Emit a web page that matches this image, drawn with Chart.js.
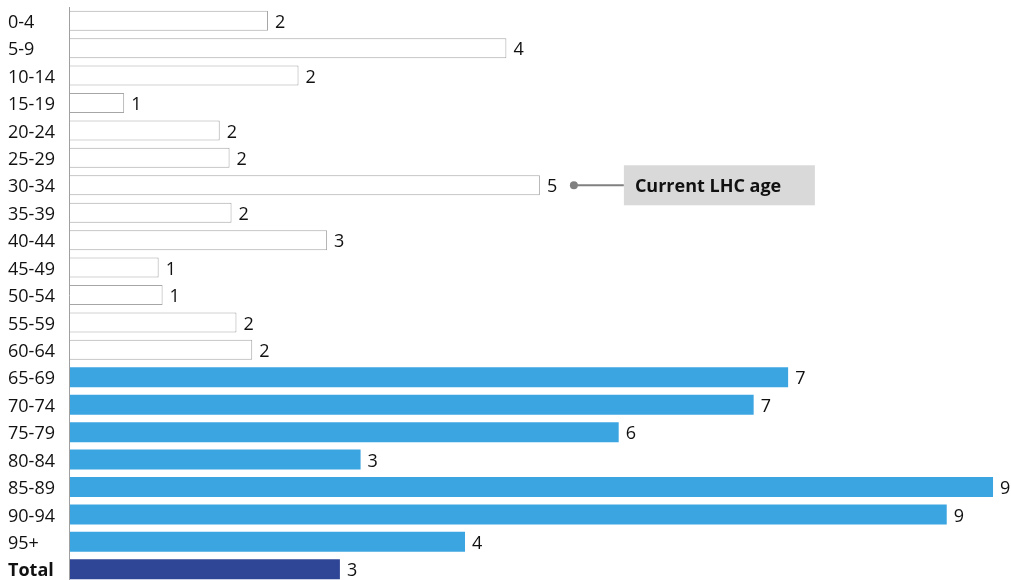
<!DOCTYPE html>
<html>
<head>
<meta charset="utf-8">
<script src="https://cdn.jsdelivr.net/npm/chart.js@4/dist/chart.umd.min.js"></script>
<style>
  html, body { margin: 0; padding: 0; background: #fff; overflow: hidden; }
  #wrap { position: relative; width: 1011px; height: 584px; }
</style>
</head>
<body>
<div id="wrap"><canvas id="chart"></canvas></div>
<script>
// Age groups, top to bottom
const ageGroups = ['0-4', '5-9', '10-14', '15-19', '20-24', '25-29', '30-34', '35-39',
  '40-44', '45-49', '50-54', '55-59', '60-64', '65-69', '70-74', '75-79', '80-84',
  '85-89', '90-94', '95+', 'Total'];

// Value per age group (labels show the rounded figure)
const values = [2.02, 4.44, 2.33, 0.56, 1.53, 1.63, 4.78, 1.65, 2.62, 0.91, 0.95,
  1.70, 1.86, 7.30, 6.95, 5.58, 2.96, 9.38, 8.91, 4.02, 2.75];

// Group marked by the callout
const currentAgeGroup = '30-34';
const calloutText = 'Current LHC age';

const FONT = '"Open Sans", "Noto Sans", sans-serif';
const FONT_SIZE = 18;

function isTotal(label) { return label === 'Total'; }
function isOlder(label) { return parseInt(label, 10) >= 65; }

const fills = ageGroups.map(l => isTotal(l) ? '#2f4596' : isOlder(l) ? '#3ba5e1' : '#ffffff');
const borders = ageGroups.map(l => isTotal(l) ? '#2f4596' : isOlder(l) ? '#3ba5e1' : '#a6a6a6');
const borderWidths = ageGroups.map(l => (isTotal(l) || isOlder(l)) ? 0 : 1);

// Rounded value labels at the end of every bar
const valueLabels = {
  id: 'valueLabels',
  afterDatasetsDraw(chart) {
    const ctx = chart.ctx;
    const meta = chart.getDatasetMeta(0);
    ctx.save();
    ctx.font = FONT_SIZE + 'px ' + FONT;
    ctx.fillStyle = '#111';
    ctx.textAlign = 'left';
    ctx.textBaseline = 'middle';
    meta.data.forEach((bar, i) => {
      ctx.fillText(String(Math.round(values[i])), bar.x + 7, bar.y + 2);
    });
    ctx.restore();
  }
};

// Callout pointing at the current age group
const callout = {
  id: 'callout',
  afterDatasetsDraw(chart) {
    const idx = ageGroups.indexOf(currentAgeGroup);
    const bar = chart.getDatasetMeta(0).data[idx];
    const ctx = chart.ctx;
    const y = bar.y;
    const dotX = bar.x + 34;
    const boxX = dotX + 50, boxW = 191, boxH = 40;
    ctx.save();
    ctx.strokeStyle = '#808080';
    ctx.fillStyle = '#808080';
    ctx.lineWidth = 2;
    ctx.beginPath();
    ctx.moveTo(dotX, y);
    ctx.lineTo(boxX, y);
    ctx.stroke();
    ctx.beginPath();
    ctx.arc(dotX, y, 4, 0, Math.PI * 2);
    ctx.fill();
    ctx.fillStyle = '#d9d9d9';
    ctx.fillRect(boxX, y - boxH / 2, boxW, boxH);
    ctx.fillStyle = '#111';
    ctx.font = 'bold ' + FONT_SIZE + 'px ' + FONT;
    ctx.textAlign = 'left';
    ctx.textBaseline = 'middle';
    ctx.fillText(calloutText, boxX + 11, y + 2);
    ctx.restore();
  }
};

new Chart(document.getElementById('chart'), {
  type: 'bar',
  data: {
    labels: ageGroups,
    datasets: [{
      data: values,
      backgroundColor: fills,
      borderColor: borders,
      borderWidth: borderWidths,
      borderSkipped: 'start',
      categoryPercentage: 1,
      barPercentage: 0.73
    }]
  },
  options: {
    indexAxis: 'y',
    responsive: true,
    maintainAspectRatio: false,
    animation: false,
    layout: { padding: { left: 8, right: 16, top: 7, bottom: 1 } },
    plugins: { legend: { display: false }, tooltip: { enabled: false } },
    scales: {
      x: { display: false, min: 0, max: 9.4 },
      y: {
        afterFit(scale) {
          scale.width = 61;
          scale.paddingTop = 0;
          scale.paddingBottom = 0;
        },
        grid: { display: false, drawTicks: false },
        // axis line drawn above the bars
        border: { display: true, color: '#a0a0a0', width: 1, z: 1 },
        ticks: {
          crossAlign: 'far',
          padding: 0,
          labelOffset: 2,
          color: '#111',
          font: ctx => ({
            family: FONT,
            size: FONT_SIZE,
            weight: ctx.index === ageGroups.length - 1 ? 'bold' : 'normal'
          })
        }
      }
    }
  },
  plugins: [valueLabels, callout]
});
</script>
</body>
</html>
